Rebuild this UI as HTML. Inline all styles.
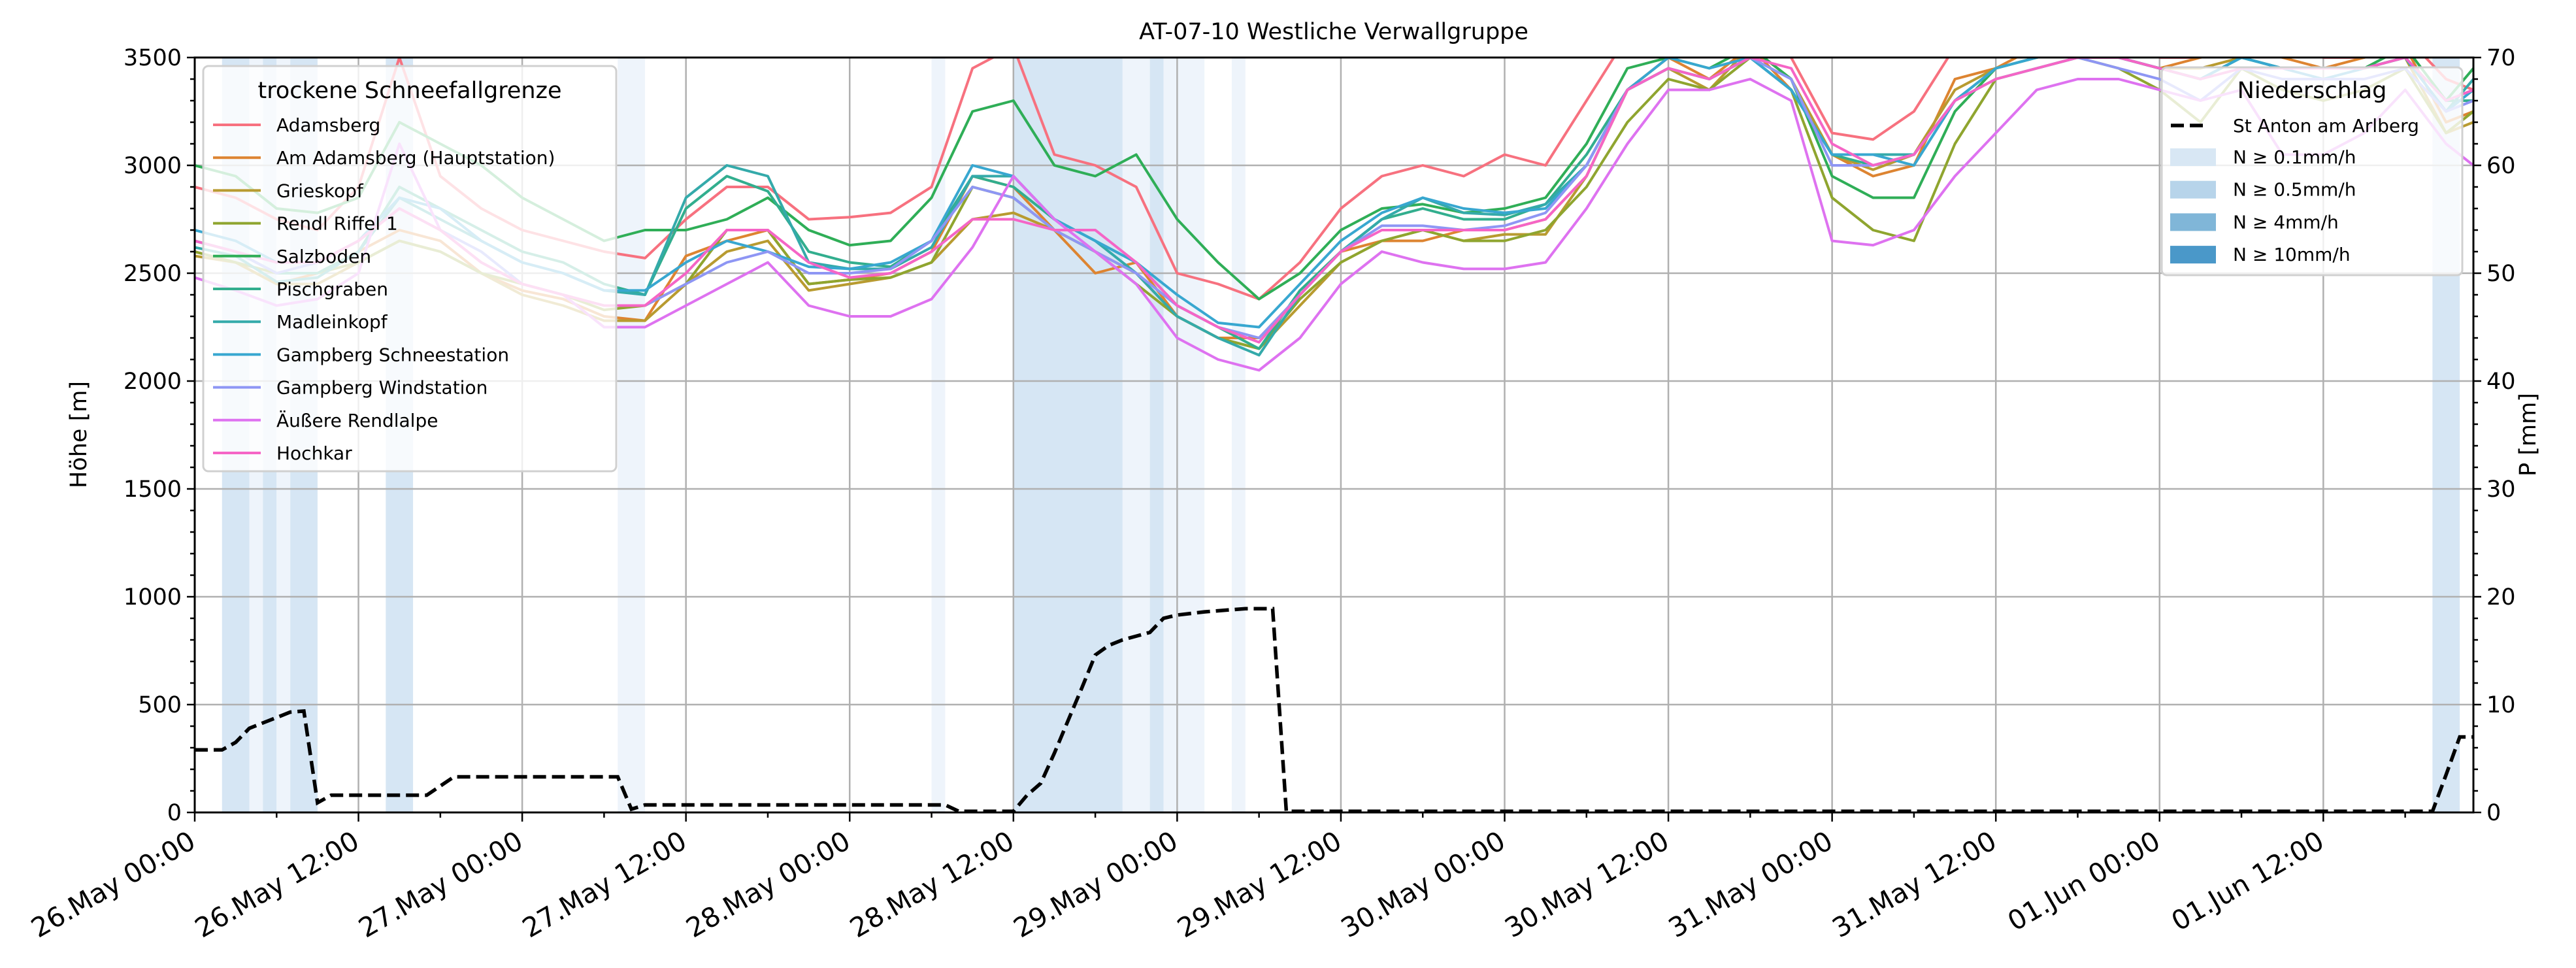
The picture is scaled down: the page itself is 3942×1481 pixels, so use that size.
<!DOCTYPE html>
<html><head><meta charset="utf-8"><style>
html,body{margin:0;padding:0;background:#fff;}
svg{display:block;font-family:"DejaVu Sans","Liberation Sans",sans-serif;}
</style></head><body>
<svg id="chart" width="3942" height="1481" viewBox="0 0 3942 1481" xmlns="http://www.w3.org/2000/svg">
<defs><clipPath id="plotclip"><rect x="298" y="88" width="3487" height="1155"/></clipPath></defs>
<rect x="0" y="0" width="3942" height="1481" fill="#fff"/>
<g id="bands" clip-path="url(#plotclip)"></g>
<g id="grid"></g>
<g id="lines" clip-path="url(#plotclip)"></g>
<g id="precip" clip-path="url(#plotclip)"></g>
<g id="axes"></g>
<text x="2041" y="60" font-size="35" text-anchor="middle">AT-07-10 Westliche Verwallgruppe</text>
<text transform="translate(132,665) rotate(-90)" font-size="35" text-anchor="middle">Höhe [m]</text>
<text transform="translate(3880,665) rotate(-90)" font-size="35" text-anchor="middle">P [mm]</text>
<g id="legend1"></g>
<g id="legend2"></g>
</svg>
<script>
const hours=[0,3,6,9,12,15,18,21,24,27,30,33,36,39,42,45,48,51,54,57,60,63,66,69,72,75,78,81,84,87,90,93,96,99,102,105,108,111,114,117,120,123,126,129,132,135,138,141,144,147,150,153,156,159,162,165,167];
const stationNames=["Adamsberg","Am Adamsberg (Hauptstation)","Grieskopf","Rendl Riffel 1","Salzboden","Pischgraben","Madleinkopf","Gampberg Schneestation","Gampberg Windstation","Äußere Rendlalpe","Hochkar"];
const stationColors=["#f7717f","#dd8431","#b89b30","#8fa52f","#2fae57","#32ae8e","#34aaaa","#38a7d0","#8e96f4","#de72f0","#f565c6"];
const sAdamsberg=[2900,2850,2750,2700,2900,3500,2950,2800,2700,2650,2600,2570,2750,2900,2900,2750,2760,2780,2900,3450,3550,3050,3000,2900,2500,2450,2380,2550,2800,2950,3000,2950,3050,3000,3300,3600,3600,3550,3600,3500,3150,3120,3250,3550,3600,3650,3700,3600,3500,3500,3600,3550,3500,3500,3600,3400,3350];
const sAmAdamsberg=[2600,2550,2450,2500,2600,2700,2650,2500,2420,2380,2300,2280,2580,2650,2700,2450,2470,2500,2600,2950,2900,2700,2500,2550,2300,2200,2200,2400,2600,2650,2650,2700,2700,2750,2950,3350,3500,3400,3550,3350,3050,2950,3000,3400,3450,3550,3550,3500,3450,3500,3550,3500,3450,3500,3550,3200,3250];
const sGrieskopf=[2580,2550,2450,2450,2550,2650,2600,2500,2400,2350,2280,2280,2450,2600,2650,2420,2450,2480,2550,2750,2780,2700,2600,2500,2300,2200,2150,2350,2550,2650,2700,2650,2680,2680,2950,3350,3450,3350,3550,3400,3050,2980,3050,3350,3450,3500,3550,3500,3450,3450,3500,3450,3450,3450,3500,3150,3200];
const sRendl=[2600,2550,2500,2500,2550,2650,2600,2500,2450,2400,2330,2350,2450,2700,2700,2450,2470,2480,2550,2900,2850,2700,2600,2450,2300,2200,2150,2380,2550,2650,2700,2650,2650,2700,2900,3200,3400,3350,3500,3350,2850,2700,2650,3100,3400,3450,3500,3450,3350,3200,3450,3350,3300,3350,3450,3150,3250];
const sSalzboden=[3000,2950,2800,2780,2850,3200,3100,3000,2850,2750,2650,2700,2700,2750,2850,2700,2630,2650,2850,3250,3300,3000,2950,3050,2750,2550,2380,2500,2700,2800,2820,2780,2800,2850,3100,3450,3500,3450,3550,3400,2950,2850,2850,3250,3450,3500,3550,3500,3450,3400,3500,3450,3450,3450,3550,3300,3450];
const sPischgraben=[2650,2600,2500,2500,2600,2900,2800,2700,2600,2550,2450,2400,2800,2950,2880,2600,2550,2530,2650,2950,2900,2750,2650,2550,2350,2250,2150,2420,2600,2750,2800,2750,2750,2820,3050,3350,3450,3400,3500,3350,3050,3000,3050,3300,3400,3450,3500,3500,3450,3400,3500,3450,3450,3450,3500,3300,3300];
const sMadleinkopf=[2620,2580,2460,2480,2600,2850,2750,2650,2550,2500,2420,2400,2850,3000,2950,2550,2520,2520,2620,2950,2950,2750,2650,2500,2300,2200,2120,2400,2600,2750,2850,2780,2770,2820,3000,3350,3450,3400,3500,3350,3050,3050,3050,3300,3450,3500,3550,3500,3450,3400,3500,3450,3450,3450,3500,3250,3400];
const sGampSchnee=[2700,2650,2550,2550,2650,2850,2800,2650,2550,2500,2420,2420,2550,2650,2600,2530,2520,2550,2650,3000,2950,2750,2650,2550,2400,2270,2250,2450,2650,2780,2850,2800,2780,2800,3000,3350,3500,3450,3500,3350,3050,3050,3000,3300,3450,3500,3550,3500,3450,3400,3500,3450,3400,3450,3500,3250,3350];
const sGampWind=[2650,2600,2500,2550,2650,2800,2700,2600,2450,2400,2350,2350,2450,2550,2600,2500,2500,2520,2650,2900,2850,2700,2600,2500,2350,2250,2200,2400,2600,2720,2720,2700,2720,2780,3000,3350,3450,3400,3500,3400,3000,3000,3050,3300,3400,3450,3500,3450,3400,3300,3450,3400,3400,3400,3450,3250,3300];
const sRendlalpe=[2480,2420,2350,2380,2500,3100,2700,2550,2450,2400,2250,2250,2350,2450,2550,2350,2300,2300,2380,2620,2950,2750,2600,2450,2200,2100,2050,2200,2450,2600,2550,2520,2520,2550,2800,3100,3350,3350,3400,3300,2650,2630,2700,2950,3150,3350,3400,3400,3350,3300,3350,3050,3050,3150,3350,3100,3000];
const sHochkar=[2650,2600,2550,2550,2650,2800,2700,2550,2450,2400,2350,2350,2500,2700,2700,2550,2480,2500,2600,2750,2750,2700,2700,2550,2350,2250,2180,2400,2600,2700,2700,2700,2700,2750,2950,3350,3450,3400,3500,3450,3100,3000,3050,3300,3400,3450,3500,3500,3450,3400,3450,3450,3450,3450,3500,3300,3350];
const pHours=[0,2,3,4,5,6,7,8,9,10,17,19,31,32,33,55,56,60,61,62,63,64,65,66,67,68,70,71,72,74,77,79,80,164,165,166,167];
const pValues=[5.8,5.8,6.5,7.8,8.3,8.8,9.3,9.4,0.9,1.6,1.6,3.3,3.3,0.3,0.7,0.7,0.1,0.1,1.6,2.7,5.5,8.5,11.5,14.6,15.5,16,16.7,18,18.3,18.6,18.9,18.9,0.1,0.1,3.5,7.0,7.0];
const bandStart=[2,4,5,6,7,14,31,54,60,68,70,71,76,164];
const bandEnd=[4,5,6,7,9,16,33,55,68,70,71,74,77,166];
const bandStrong=[1,0,1,0,1,1,0,0,1,0,1,0,0,1];
const yTicks=[0,500,1000,1500,2000,2500,3000,3500];
const y2Ticks=[0,10,20,30,40,50,60,70];
const xTickLabels=["26.May 00:00","26.May 12:00","27.May 00:00","27.May 12:00","28.May 00:00","28.May 12:00","29.May 00:00","29.May 12:00","30.May 00:00","30.May 12:00","31.May 00:00","31.May 12:00","01.Jun 00:00","01.Jun 12:00"];
const series=[sAdamsberg,sAmAdamsberg,sGrieskopf,sRendl,sSalzboden,sPischgraben,sMadleinkopf,sGampSchnee,sGampWind,sRendlalpe,sHochkar];

const L=298,R=3785,T=88,B=1243,HMAX=167;
const NS="http://www.w3.org/2000/svg";
const xs=h=>L+(h/HMAX)*(R-L);
const ys=v=>B-(v/3500)*(B-T);
const y2s=v=>B-(v/70)*(B-T);
function mk(tag,attrs,parent){const e=document.createElementNS(NS,tag);for(const k in attrs)e.setAttribute(k,attrs[k]);parent.appendChild(e);return e;}

const gB=document.getElementById('bands');
bandStart.forEach((s,i)=>{
  const r=mk('rect',{x:xs(s),y:T,width:xs(bandEnd[i])-xs(s),height:B-T,fill:bandStrong[i]?'#d6e6f4':'#eef4fb'},gB);
  
  
});
const gG=document.getElementById('grid');
yTicks.forEach(v=>{const l=mk('line',{x1:L,x2:R,y1:ys(v),y2:ys(v),stroke:'#b0b0b0','stroke-width':2.5},gG);
  
  });
xTickLabels.forEach((t,i)=>{const x=xs(i*12);const l=mk('line',{x1:x,x2:x,y1:T,y2:B,stroke:'#b0b0b0','stroke-width':2.5},gG);
  
  });

const gL=document.getElementById('lines');
series.forEach((s,i)=>{
  const d=s.map((v,j)=>(j?'L':'M')+xs(hours[j]).toFixed(1)+','+ys(v).toFixed(1)).join(' ');
  const p=mk('path',{d:d,fill:'none',stroke:stationColors[i],'stroke-width':4,'stroke-linejoin':'round'},gL);
  
  
});
const gP=document.getElementById('precip');
const pd=pHours.map((h,j)=>(j?'L':'M')+xs(h).toFixed(1)+','+y2s(pValues[j]).toFixed(1)).join(' ');
const pp=mk('path',{d:pd,fill:'none',stroke:'#000','stroke-width':5.5,'stroke-dasharray':'20 9'},gP);



const gA=document.getElementById('axes');
mk('rect',{x:L,y:T,width:R-L,height:B-T,fill:'none',stroke:'#000','stroke-width':3},gA);
for(let v=0;v<=3500;v+=100){const y=ys(v);const major=v%500===0;mk('line',{x1:L-(major?12:7),x2:L,y1:y,y2:y,stroke:'#000','stroke-width':2.5},gA);}
for(let v=0;v<=70;v+=2){const y=y2s(v);const major=v%10===0;mk('line',{x1:R,x2:R+(major?12:7),y1:y,y2:y,stroke:'#000','stroke-width':2.5},gA);}
for(let h=0;h<=HMAX;h+=6){const x=xs(h);const major=h%12===0;mk('line',{x1:x,x2:x,y1:B,y2:B+(major?14:8),stroke:'#000','stroke-width':2.5},gA);}
yTicks.forEach(v=>{const t=mk('text',{x:L-20,y:ys(v)+12,'font-size':35,'text-anchor':'end'},gA);t.textContent=v;
  
  });
y2Ticks.forEach(v=>{const t=mk('text',{x:R+20,y:y2s(v)+12,'font-size':35,'text-anchor':'start'},gA);t.textContent=v;
  
  });
xTickLabels.forEach((s,i)=>{const x=xs(i*12);const t=mk('text',{transform:`translate(${x+4},${B+52}) rotate(-30)`,'font-size':41,'text-anchor':'end'},gA);t.textContent=s;
  
  });

const g1=document.getElementById('legend1');
mk('rect',{x:311,y:101,width:632,height:620,rx:8,fill:'#fff','fill-opacity':0.8,stroke:'#d0d0d0','stroke-width':3},g1);
const tt=mk('text',{x:627,y:150,'font-size':35,'text-anchor':'middle'},g1);tt.textContent='trockene Schneefallgrenze';
stationNames.forEach((n,i)=>{const y=191+i*50.2;
  mk('line',{x1:326,x2:399,y1:y,y2:y,stroke:stationColors[i],'stroke-width':4},g1);
  const t=mk('text',{x:423,y:y+10,'font-size':28},g1);t.textContent=n;
  
  });
const g2=document.getElementById('legend2');
mk('rect',{x:3308,y:103,width:460,height:318,rx:8,fill:'#fff','fill-opacity':0.8,stroke:'#d0d0d0','stroke-width':3},g2);
const t2=mk('text',{x:3538,y:150,'font-size':35,'text-anchor':'middle'},g2);t2.textContent='Niederschlag';
mk('line',{x1:3322,x2:3380,y1:192,y2:192,stroke:'#000','stroke-width':5.5,'stroke-dasharray':'20 9'},g2);
const ts=mk('text',{x:3417,y:202,'font-size':28},g2);ts.textContent='St Anton am Arlberg';
const legLabels=['N ≥ 0.1mm/h','N ≥ 0.5mm/h','N ≥ 4mm/h','N ≥ 10mm/h'];
const legCols=['#d8e7f4','#b7d4ea','#80b6d8','#4a98c9'];
legLabels.forEach((s,i)=>{const y=240+i*49.7;
  mk('rect',{x:3321,y:y-13,width:70,height:27,fill:legCols[i]},g2);
  const t=mk('text',{x:3417,y:y+10,'font-size':28},g2);t.textContent=s;
  
  });
</script>
</body></html>
